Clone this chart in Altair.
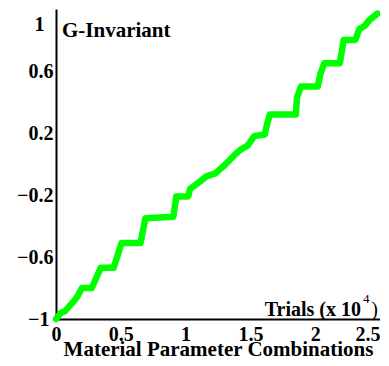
import altair as alt
import pandas as pd

# Trials (x 10^4) and G-Invariant values
trials = [0, 0.038, 0.069, 0.10, 0.138, 0.169, 0.20, 0.276, 0.345, 0.445, 0.506, 0.652,
          0.69, 0.905, 0.928, 1.02, 1.035, 1.10, 1.16, 1.23, 1.31, 1.38, 1.42, 1.48,
          1.53, 1.61, 1.63, 1.65, 1.85, 1.86, 1.89, 2.02, 2.04, 2.07, 2.19, 2.21,
          2.22, 2.31, 2.34, 2.38, 2.42, 2.48]
g_inv = [-1.0, -0.96, -0.95, -0.92, -0.885, -0.85, -0.80, -0.80, -0.67, -0.67, -0.51, -0.51,
         -0.35, -0.34, -0.21, -0.21, -0.16, -0.12, -0.08, -0.06, 0.0, 0.06, 0.09, 0.12,
         0.18, 0.19, 0.26, 0.32, 0.32, 0.43, 0.50, 0.50, 0.58, 0.65, 0.65, 0.75,
         0.80, 0.80, 0.87, 0.89, 0.93, 0.97]
x_ticks = [0, 0.5, 1, 1.5, 2, 2.5]
y_ticks = [-1, -0.6, -0.2, 0.2, 0.6, 1]

df = pd.DataFrame({"t": trials, "g": g_inv, "i": list(range(len(trials)))})

FONT = "Liberation Serif"
W, H = 324, 310

line = alt.Chart(df).mark_line(
    color="#00FF00", strokeWidth=6.5, strokeCap="round", strokeJoin="round"
).encode(
    x=alt.X("t:Q",
            scale=alt.Scale(domain=[0, 2.5], nice=False, zero=False),
            axis=alt.Axis(values=x_ticks, ticks=False, grid=False,
                          labelExpr="format(datum.value, '~g')",
                          labelAlign={"condition": {"test": "datum.value >= 2.5", "value": "right"},
                                      "value": "center"},
                          labelPadding=5, labelFont=FONT, labelFontSize=20,
                          labelFontWeight="bold", labelColor="black",
                          domainColor="black", domainWidth=2,
                          title="Material Parameter Combinations",
                          titleFont=FONT, titleFontSize=21, titleFontWeight="bold",
                          titleColor="black", titleY=36, titleBaseline="alphabetic")),
    y=alt.Y("g:Q",
            scale=alt.Scale(domain=[-1, 1], nice=False, zero=False),
            axis=alt.Axis(values=y_ticks, ticks=False, grid=False,
                          labelExpr="format(datum.value, '~g')",
                          labelBaseline={"condition": {"test": "datum.value >= 1", "value": "top"},
                                         "value": "middle"},
                          labelOffset={"condition": {"test": "datum.value >= 1", "value": 5},
                                       "value": 0},
                          labelPadding={"condition": [{"test": "datum.value >= 1", "value": 12},
                                                      {"test": "datum.value <= -1", "value": 7}],
                                        "value": 3},
                          labelFont=FONT, labelFontSize=20,
                          labelFontWeight="bold", labelColor="black",
                          domainColor="black", domainWidth=2, title=None)),
    order="i:Q",
)

one = pd.DataFrame({"k": [0]})

g_label = alt.Chart(one).mark_text(
    text="G-Invariant", font=FONT, fontSize=21, fontWeight="bold",
    align="left", baseline="alphabetic", color="black"
).encode(x=alt.value(6), y=alt.value(28))

trials_main = alt.Chart(one).mark_text(
    text="Trials (x 10", font=FONT, fontSize=20, fontWeight="bold",
    align="right", baseline="alphabetic", color="black"
).encode(x=alt.value(W - 19), y=alt.value(H - 3))

trials_sup = alt.Chart(one).mark_text(
    text="4", font=FONT, fontSize=13,
    align="left", baseline="alphabetic", color="black"
).encode(x=alt.value(W - 17), y=alt.value(H - 16))

trials_close = alt.Chart(one).mark_text(
    text=")", font=FONT, fontSize=20,
    align="right", baseline="alphabetic", color="black"
).encode(x=alt.value(W - 2), y=alt.value(H - 3))

chart = alt.layer(line, g_label, trials_main, trials_sup, trials_close).properties(
    width=W, height=H,
    autosize=alt.AutoSizeParams(type="none"),
    padding={"left": 48, "top": 1, "right": 0, "bottom": 39},
    background="white",
).configure_view(stroke=None)

chart.save("out.html", embed_options={"renderer": "svg", "actions": False})
